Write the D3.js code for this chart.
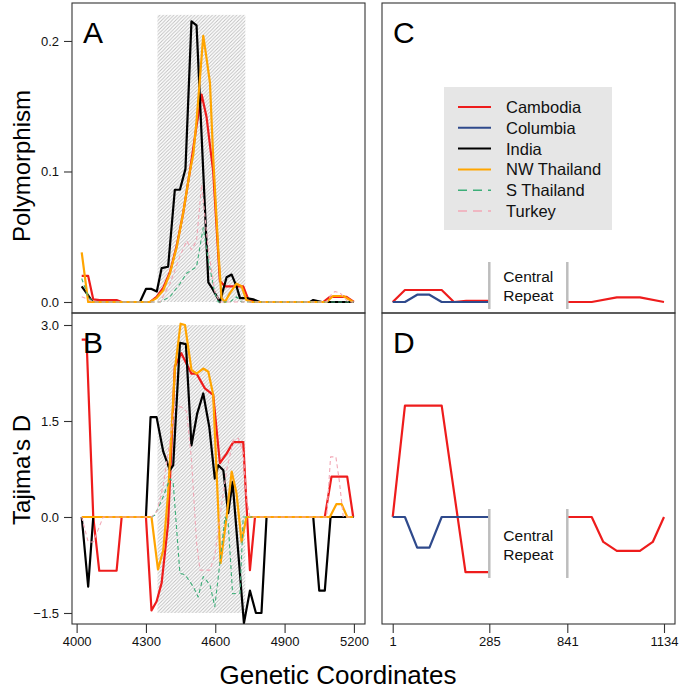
<!DOCTYPE html>
<html><head><meta charset="utf-8">
<script src="https://cdn.jsdelivr.net/npm/d3@7"></script>
<style>html,body{margin:0;padding:0;background:#fff;}</style>
</head><body>
<svg id="chart" width="683" height="693"></svg>
<script>
// ---------- DATA ----------
const countries = ["Cambodia","Columbia","India","NW Thailand","S Thailand","Turkey"];
const colors = ["#ee1c1c","#2f4a8c","#000000","#ffa500","#3cae78","#f2a8b6"];
const dashed = [false,false,false,false,true,true];

// Panel A: polymorphism [coordinate, value]
const polyCambodia = [[4022,0.020],[4050,0.020],[4072,0.002],[4100,0.0015],[4173,0.0015],[4195,0],[4317,0],[4346,0.004],[4375,0.011],[4404,0.023],[4433,0.043],[4461,0.068],[4490,0.100],[4519,0.135],[4541,0.159],[4562,0.142],[4591,0.100],[4620,0.016],[4642,0.012],[4721,0.012],[4743,0.002],[4779,0],[5067,0],[5096,0.004],[5168,0.004],[5200,0]];
const polyIndia = [[4022,0.012],[4050,0.005],[4069,0],[4274,0],[4300,0.010],[4324,0.010],[4347,0.008],[4368,0.026],[4396,0.027],[4425,0.086],[4447,0.086],[4471,0.102],[4497,0.215],[4519,0.212],[4570,0.015],[4585,0.011],[4620,0],[4649,0.019],[4671,0.021],[4692,0.012],[4707,0.003],[4735,0.003],[4764,0.002],[4793,0],[5010,0],[5024,0.0015],[5062,0],[5200,0]];
const polyNWThailand = [[4022,0.038],[4050,0],[4317,0],[4346,0.003],[4375,0.009],[4404,0.022],[4433,0.042],[4461,0.068],[4490,0.100],[4505,0.113],[4519,0.139],[4534,0.172],[4548,0.204],[4562,0.187],[4577,0.168],[4591,0.111],[4613,0.040],[4627,0.003],[4642,0],[4664,0.007],[4692,0.014],[4714,0.012],[4735,0.0015],[4757,0],[5082,0],[5110,0.0046],[5154,0.0046],[5197,0]];
const polySThailand = [[4022,0.018],[4050,0.004],[4072,0],[4361,0],[4404,0.004],[4447,0.014],[4476,0.022],[4519,0.027],[4548,0.057],[4570,0.032],[4598,0.007],[4613,0],[4664,0],[4692,0.004],[4714,0],[5200,0]];
const polyTurkey = [[4022,0.004],[4050,0.002],[4072,0],[4361,0],[4404,0.014],[4447,0.035],[4476,0.047],[4497,0.040],[4519,0.047],[4541,0.090],[4570,0.040],[4598,0.008],[4620,0],[5082,0],[5103,0.006],[5118,0.008],[5140,0.007],[5160,0.003],[5175,0],[5200,0]];

// Panel B: Tajima's D
const tajCambodia = [[4022,2.77],[4043,2.77],[4072,0],[4098,-0.84],[4173,-0.84],[4195,0],[4300,0],[4324,-1.46],[4346,-1.32],[4368,-1.03],[4396,-0.10],[4425,2.35],[4453,2.56],[4497,2.24],[4519,2.24],[4555,2.01],[4591,1.91],[4620,0.84],[4649,0.99],[4678,1.17],[4721,1.17],[4750,-0.83],[4772,0],[5074,0],[5103,0.63],[5171,0.63],[5197,0]];
const tajIndia = [[4022,0],[4050,-1.09],[4072,0],[4300,0],[4320,1.56],[4346,1.56],[4375,1.02],[4404,0.73],[4418,0.81],[4447,2.72],[4473,2.70],[4497,1.12],[4522,1.62],[4548,1.93],[4574,1.41],[4598,0.60],[4613,0.81],[4635,0.73],[4656,0.06],[4675,0.55],[4724,-1.66],[4750,-1.15],[4776,-1.50],[4800,-1.50],[4822,0],[5024,0],[5050,-1.15],[5074,-1.15],[5099,0],[5200,0]];
const tajNWThailand = [[4022,0],[4324,0],[4352,-0.82],[4375,-0.52],[4396,0.37],[4404,0.89],[4425,2.30],[4450,3.02],[4469,3.00],[4497,2.30],[4519,2.24],[4548,2.32],[4570,2.27],[4591,1.91],[4623,-0.72],[4649,0],[4671,0.71],[4692,0.37],[4714,-0.39],[4735,0],[5096,0],[5124,0.20],[5147,0.20],[5171,0],[5197,0]];
const tajSThailand = [[4324,0],[4339,0.03],[4375,0.32],[4404,0.60],[4418,0.53],[4447,-0.88],[4469,-0.90],[4505,-1.09],[4526,-1.25],[4548,-0.93],[4577,-1.06],[4598,-1.40],[4620,-0.72],[4642,0],[4656,-0.10],[4675,-1.20],[4707,-1.19],[4721,0],[4760,0]];
const tajTurkey = [[4022,0],[4050,-0.39],[4072,-0.39],[4115,0],[4324,0],[4349,0.10],[4375,0.50],[4404,1.20],[4425,1.72],[4453,1.72],[4476,1.65],[4497,0.90],[4519,-0.40],[4534,-0.83],[4577,-0.83],[4598,-0.60],[4620,0],[4649,0.73],[4678,1.20],[4700,1.23],[4721,1.00],[4735,0.30],[4750,0],[5082,0],[5099,0.94],[5122,0.94],[5137,0.56],[5154,0],[5200,0]];

// Panels C/D: flanking regions (Cambodia, Columbia)
const flankPolyCambodiaL = [[1,0],[37,0.0092],[73,0.0092],[109,0.0092],[145,0.0092],[181,0],[217,0.0008],[253,0.0008],[285,0.0008]];
const flankPolyColumbiaL = [[1,0],[37,0],[73,0.0056],[109,0.0056],[145,0],[181,0],[217,0],[253,0],[285,0]];
const flankPolyCambodiaR = [[841,0],[877,0],[915,0],[991,0.0036],[1061,0.0036],[1134,0]];
const flankTajCambodiaL = [[1,0],[37,1.74],[73,1.74],[109,1.74],[145,1.74],[215,-0.86],[253,-0.86],[285,-0.86]];
const flankTajColumbiaL = [[1,0],[37,0],[73,-0.48],[109,-0.48],[145,0],[181,0],[217,0],[253,0],[285,0]];
const flankTajCambodiaR = [[841,0],[915,0],[950,-0.39],[991,-0.53],[1061,-0.53],[1100,-0.39],[1134,0]];

const shadeRange = [4350, 4730];
const shadeTopA = 0.22, shadeB = [-1.5, 3.0];
const ticksA = [0.0, 0.1, 0.2];
const ticksB = [-1.5, 0.0, 1.5, 3.0];
const ticksX = [4000, 4300, 4600, 4900, 5200];
const ticksFlank = [1, 285, 841, 1134];

// ---------- LAYOUT ----------
const FONT = "'Liberation Sans', Arial, Helvetica, sans-serif";
const svg = d3.select("#chart");
const L = {x0:72, x1:365}, R = {x0:382, x1:675};
const TOP = {y0:3, y1:313}, BOT = {y0:313, y1:624};

const x = d3.scaleLinear().domain([3980, 5248]).range([L.x0, L.x1]);
const xf = d3.scaleLinear().domain([1, 285, 841, 1134]).range([392.7, 489.3, 567.3, 664]);
const yA = d3.scaleLinear().domain([-0.00843, 0.2291]).range([TOP.y1, TOP.y0]);
const yB = d3.scaleLinear().domain([-1.672, 3.1875]).range([BOT.y1, BOT.y0]);

const defs = svg.append("defs");
const pat = defs.append("pattern").attr("id","hatch").attr("patternUnits","userSpaceOnUse")
  .attr("width",3.5).attr("height",3.5);
pat.append("rect").attr("width",3.5).attr("height",3.5).attr("fill","#fff");
pat.append("path").attr("d","M-1,1 l2,-2 M0,3.5 l3.5,-3.5 M2.5,4.5 l2,-2")
  .attr("stroke","#bdbdbd").attr("stroke-width",0.9);

function clip(id, p, q){
  defs.append("clipPath").attr("id",id).append("rect")
    .attr("x",p.x0).attr("y",q.y0).attr("width",p.x1-p.x0).attr("height",q.y1-q.y0);
}
clip("cA",L,TOP); clip("cB",L,BOT); clip("cC",R,TOP); clip("cD",R,BOT);

// shaded regions
svg.append("rect").attr("x",x(shadeRange[0])).attr("width",x(shadeRange[1])-x(shadeRange[0]))
  .attr("y",yA(shadeTopA)).attr("height",yA(0)-yA(shadeTopA)).attr("fill","url(#hatch)");
svg.append("rect").attr("x",x(shadeRange[0])).attr("width",x(shadeRange[1])-x(shadeRange[0]))
  .attr("y",yB(shadeB[1])).attr("height",yB(shadeB[0])-yB(shadeB[1])).attr("fill","url(#hatch)");

function drawLine(g, data, xs, ys, ci){
  const line = d3.line().x(d=>xs(d[0])).y(d=>ys(d[1]));
  g.append("path").attr("d",line(data)).attr("fill","none")
    .attr("stroke",colors[ci]).attr("stroke-width",dashed[ci]?1.1:2.2)
    .attr("stroke-dasharray",dashed[ci]?"4,3":null)
    .attr("stroke-linejoin","round");
}

const gA = svg.append("g").attr("clip-path","url(#cA)");
drawLine(gA, polyCambodia, x, yA, 0);
drawLine(gA, polyIndia, x, yA, 2);
drawLine(gA, polyNWThailand, x, yA, 3);
drawLine(gA, polySThailand, x, yA, 4);
drawLine(gA, polyTurkey, x, yA, 5);

const gB = svg.append("g").attr("clip-path","url(#cB)");
drawLine(gB, tajCambodia, x, yB, 0);
drawLine(gB, tajIndia, x, yB, 2);
drawLine(gB, tajNWThailand, x, yB, 3);
drawLine(gB, tajSThailand, x, yB, 4);
drawLine(gB, tajTurkey, x, yB, 5);

const gC = svg.append("g").attr("clip-path","url(#cC)");
drawLine(gC, flankPolyCambodiaL, xf, yA, 0);
drawLine(gC, flankPolyColumbiaL, xf, yA, 1);
drawLine(gC, flankPolyCambodiaR, xf, yA, 0);

const gD = svg.append("g").attr("clip-path","url(#cD)");
drawLine(gD, flankTajCambodiaL, xf, yB, 0);
drawLine(gD, flankTajColumbiaL, xf, yB, 1);
drawLine(gD, flankTajCambodiaR, xf, yB, 0);

// central repeat markers
function central(yTop, yBot, yText){
  [285, 841].forEach(v=>{
    svg.append("line").attr("x1",xf(v)).attr("x2",xf(v)).attr("y1",yTop).attr("y2",yBot)
      .attr("stroke","#bdbdbd").attr("stroke-width",2.5);
  });
  const cx = (xf(285)+xf(841))/2;
  ["Central","Repeat"].forEach((t,i)=>{
    svg.append("text").attr("x",cx).attr("y",yText+i*18.5).attr("text-anchor","middle")
      .attr("font-family",FONT).attr("font-size",15.5).attr("fill","#111").text(t);
  });
}
central(262, 309, 282);
central(509, 578, 541);

// frames
[[L,TOP],[L,BOT],[R,TOP],[R,BOT]].forEach(([p,q])=>{
  svg.append("rect").attr("x",p.x0).attr("y",q.y0).attr("width",p.x1-p.x0).attr("height",q.y1-q.y0)
    .attr("fill","none").attr("stroke","#333").attr("stroke-width",1.1);
});

// axes
const axA = svg.append("g").attr("transform",`translate(${L.x0},0)`)
  .call(d3.axisLeft(yA).tickValues(ticksA).tickFormat(d3.format(".1f")).tickSize(8).tickPadding(5));
const axB = svg.append("g").attr("transform",`translate(${L.x0},0)`)
  .call(d3.axisLeft(yB).tickValues(ticksB).tickFormat(d3.format(".1f")).tickSize(8).tickPadding(5));
const axX = svg.append("g").attr("transform",`translate(0,${BOT.y1})`)
  .call(d3.axisBottom(x).tickValues(ticksX).tickFormat(d3.format("d")).tickSize(9).tickPadding(4));
const axF = svg.append("g").attr("transform",`translate(0,${BOT.y1})`)
  .call(d3.axisBottom(xf).tickValues(ticksFlank).tickFormat(d3.format("d")).tickSize(9).tickPadding(4));
[axA,axB,axX,axF].forEach(g=>{
  g.select(".domain").remove();
  g.selectAll(".tick line").attr("stroke","#333").attr("stroke-width",1.1);
  g.selectAll("text").attr("font-family",FONT).attr("font-size",13).attr("fill","#111");
});

// panel letters
[["A",83,43],["B",83,353],["C",393,43],["D",393,353]].forEach(([t,px,py])=>{
  svg.append("text").attr("x",px).attr("y",py).attr("font-family",FONT).attr("font-size",30)
    .attr("fill","#000").text(t);
});

// axis titles
svg.append("text").attr("transform","translate(30,166) rotate(-90)").attr("text-anchor","middle")
  .attr("font-family",FONT).attr("font-size",24).attr("fill","#000").text("Polymorphism");
svg.append("text").attr("transform","translate(30,470) rotate(-90)").attr("text-anchor","middle")
  .attr("font-family",FONT).attr("font-size",24).attr("fill","#000").text("Tajima's D");
svg.append("text").attr("x",338).attr("y",684).attr("text-anchor","middle")
  .attr("font-family",FONT).attr("font-size",26).attr("fill","#000").text("Genetic Coordinates");

// legend
const lg = svg.append("g");
lg.append("rect").attr("x",444).attr("y",87).attr("width",168).attr("height",143).attr("fill","#e6e6e6");
countries.forEach((c,i)=>{
  const yy = 107 + i*20.8;
  lg.append("line").attr("x1",458).attr("x2",491).attr("y1",yy).attr("y2",yy)
    .attr("stroke",colors[i]).attr("stroke-width",dashed[i]?1.6:2)
    .attr("stroke-dasharray",dashed[i]?"9,6":null);
  lg.append("text").attr("x",506).attr("y",yy+6).attr("font-family",FONT).attr("font-size",16.5)
    .attr("fill","#111").text(c);
});
</script>
</body></html>
